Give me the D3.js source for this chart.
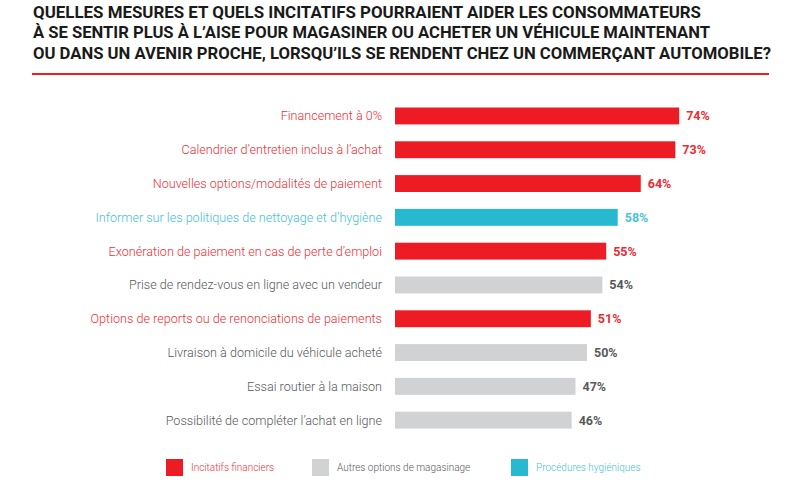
<!DOCTYPE html>
<html><head><meta charset="utf-8">
<script src="https://cdn.jsdelivr.net/npm/d3@7"></script>
<style>body{margin:0;background:#fff;} svg{display:block;font-family:Roboto,"Noto Sans",sans-serif;}</style>
</head><body>
<svg id="chart" width="800" height="500"></svg>
<script>
const titleLines = [
  "QUELLES MESURES ET QUELS INCITATIFS POURRAIENT AIDER LES CONSOMMATEURS",
  "À SE SENTIR PLUS À L’AISE POUR MAGASINER OU ACHETER UN VÉHICULE MAINTENANT",
  "OU DANS UN AVENIR PROCHE, LORSQU’ILS SE RENDENT CHEZ UN COMMERÇANT AUTOMOBILE?"
];
const categories = [
  "Financement à 0%",
  "Calendrier d’entretien inclus à l’achat",
  "Nouvelles options/modalités de paiement",
  "Informer sur les politiques de nettoyage et d’hygiène",
  "Exonération de paiement en cas de perte d’emploi",
  "Prise de rendez-vous en ligne avec un vendeur",
  "Options de reports ou de renonciations de paiements",
  "Livraison à domicile du véhicule acheté",
  "Essai routier à la maison",
  "Possibilité de compléter l’achat en ligne"
];
const values = [74, 73, 64, 58, 55, 54, 51, 50, 47, 46];
const groups = ["fin", "fin", "fin", "hyg", "fin", "other", "fin", "other", "other", "other"];
const legendKeys = ["fin", "other", "hyg"];
const legendLabels = ["Incitatifs financiers", "Autres options de magasinage", "Procédures hygiéniques"];

const barColor = {fin: "#ED1C24", other: "#D1D2D4", hyg: "#27B9CF"};
const labelColor = {fin: "#EE2F37", other: "#58595B", hyg: "#45BFD3"};
const valueColor = {fin: "#EE2A32", other: "#58595B", hyg: "#4EC3D5"};

const svg = d3.select("#chart");

// Title
const titleWidths = [668, 677, 738];
svg.append("g").selectAll("text").data(titleLines).join("text")
  .attr("x", 33)
  .attr("y", (d, i) => 17.5 + i * 20.5)
  .attr("font-size", 16)
  .attr("font-weight", 700)
  .attr("fill", "#1a1a1a")
  .attr("textLength", (d, i) => titleWidths[i])
  .attr("lengthAdjust", "spacingAndGlyphs")
  .text(d => d);

svg.append("line")
  .attr("x1", 32).attr("x2", 769).attr("y1", 74).attr("y2", 74)
  .attr("stroke", "#ED1C24").attr("stroke-width", 2);

// Scales
const x = d3.scaleLinear().domain([0, 100]).range([395, 779]);
const y = d3.scaleBand().domain(categories).range([90.6, 445.5]).padding(0.5);

const rows = svg.append("g").selectAll("g").data(categories).join("g");

rows.append("rect")
  .attr("x", x(0))
  .attr("y", d => y(d))
  .attr("width", (d, i) => x(values[i]) - x(0))
  .attr("height", y.bandwidth())
  .attr("fill", (d, i) => barColor[groups[i]]);

rows.append("text")
  .attr("x", 382)
  .attr("y", d => y(d) + y.bandwidth() / 2)
  .attr("dy", "0.35em")
  .attr("text-anchor", "end")
  .attr("font-size", 12.6)
  .attr("font-weight", 300)
  .attr("fill", (d, i) => labelColor[groups[i]])
  .text(d => d);

rows.append("text")
  .attr("x", (d, i) => x(values[i]) + 7)
  .attr("y", d => y(d) + y.bandwidth() / 2)
  .attr("dy", "0.35em")
  .attr("font-size", 12.5)
  .attr("font-weight", 700)
  .attr("fill", (d, i) => valueColor[groups[i]])
  .text((d, i) => values[i] + "%");

// Legend
const legendX = [166, 312, 511];
const lg = svg.append("g").selectAll("g").data(legendKeys).join("g")
  .attr("transform", (d, i) => `translate(${legendX[i]},459)`);
lg.append("rect").attr("width", 17).attr("height", 17)
  .attr("fill", d => barColor[d]);
lg.append("text").attr("x", 25).attr("y", 8.5).attr("dy", "0.35em")
  .attr("font-size", 10).attr("font-weight", 300)
  .attr("fill", d => labelColor[d])
  .text((d, i) => legendLabels[i]);
</script>
</body></html>
